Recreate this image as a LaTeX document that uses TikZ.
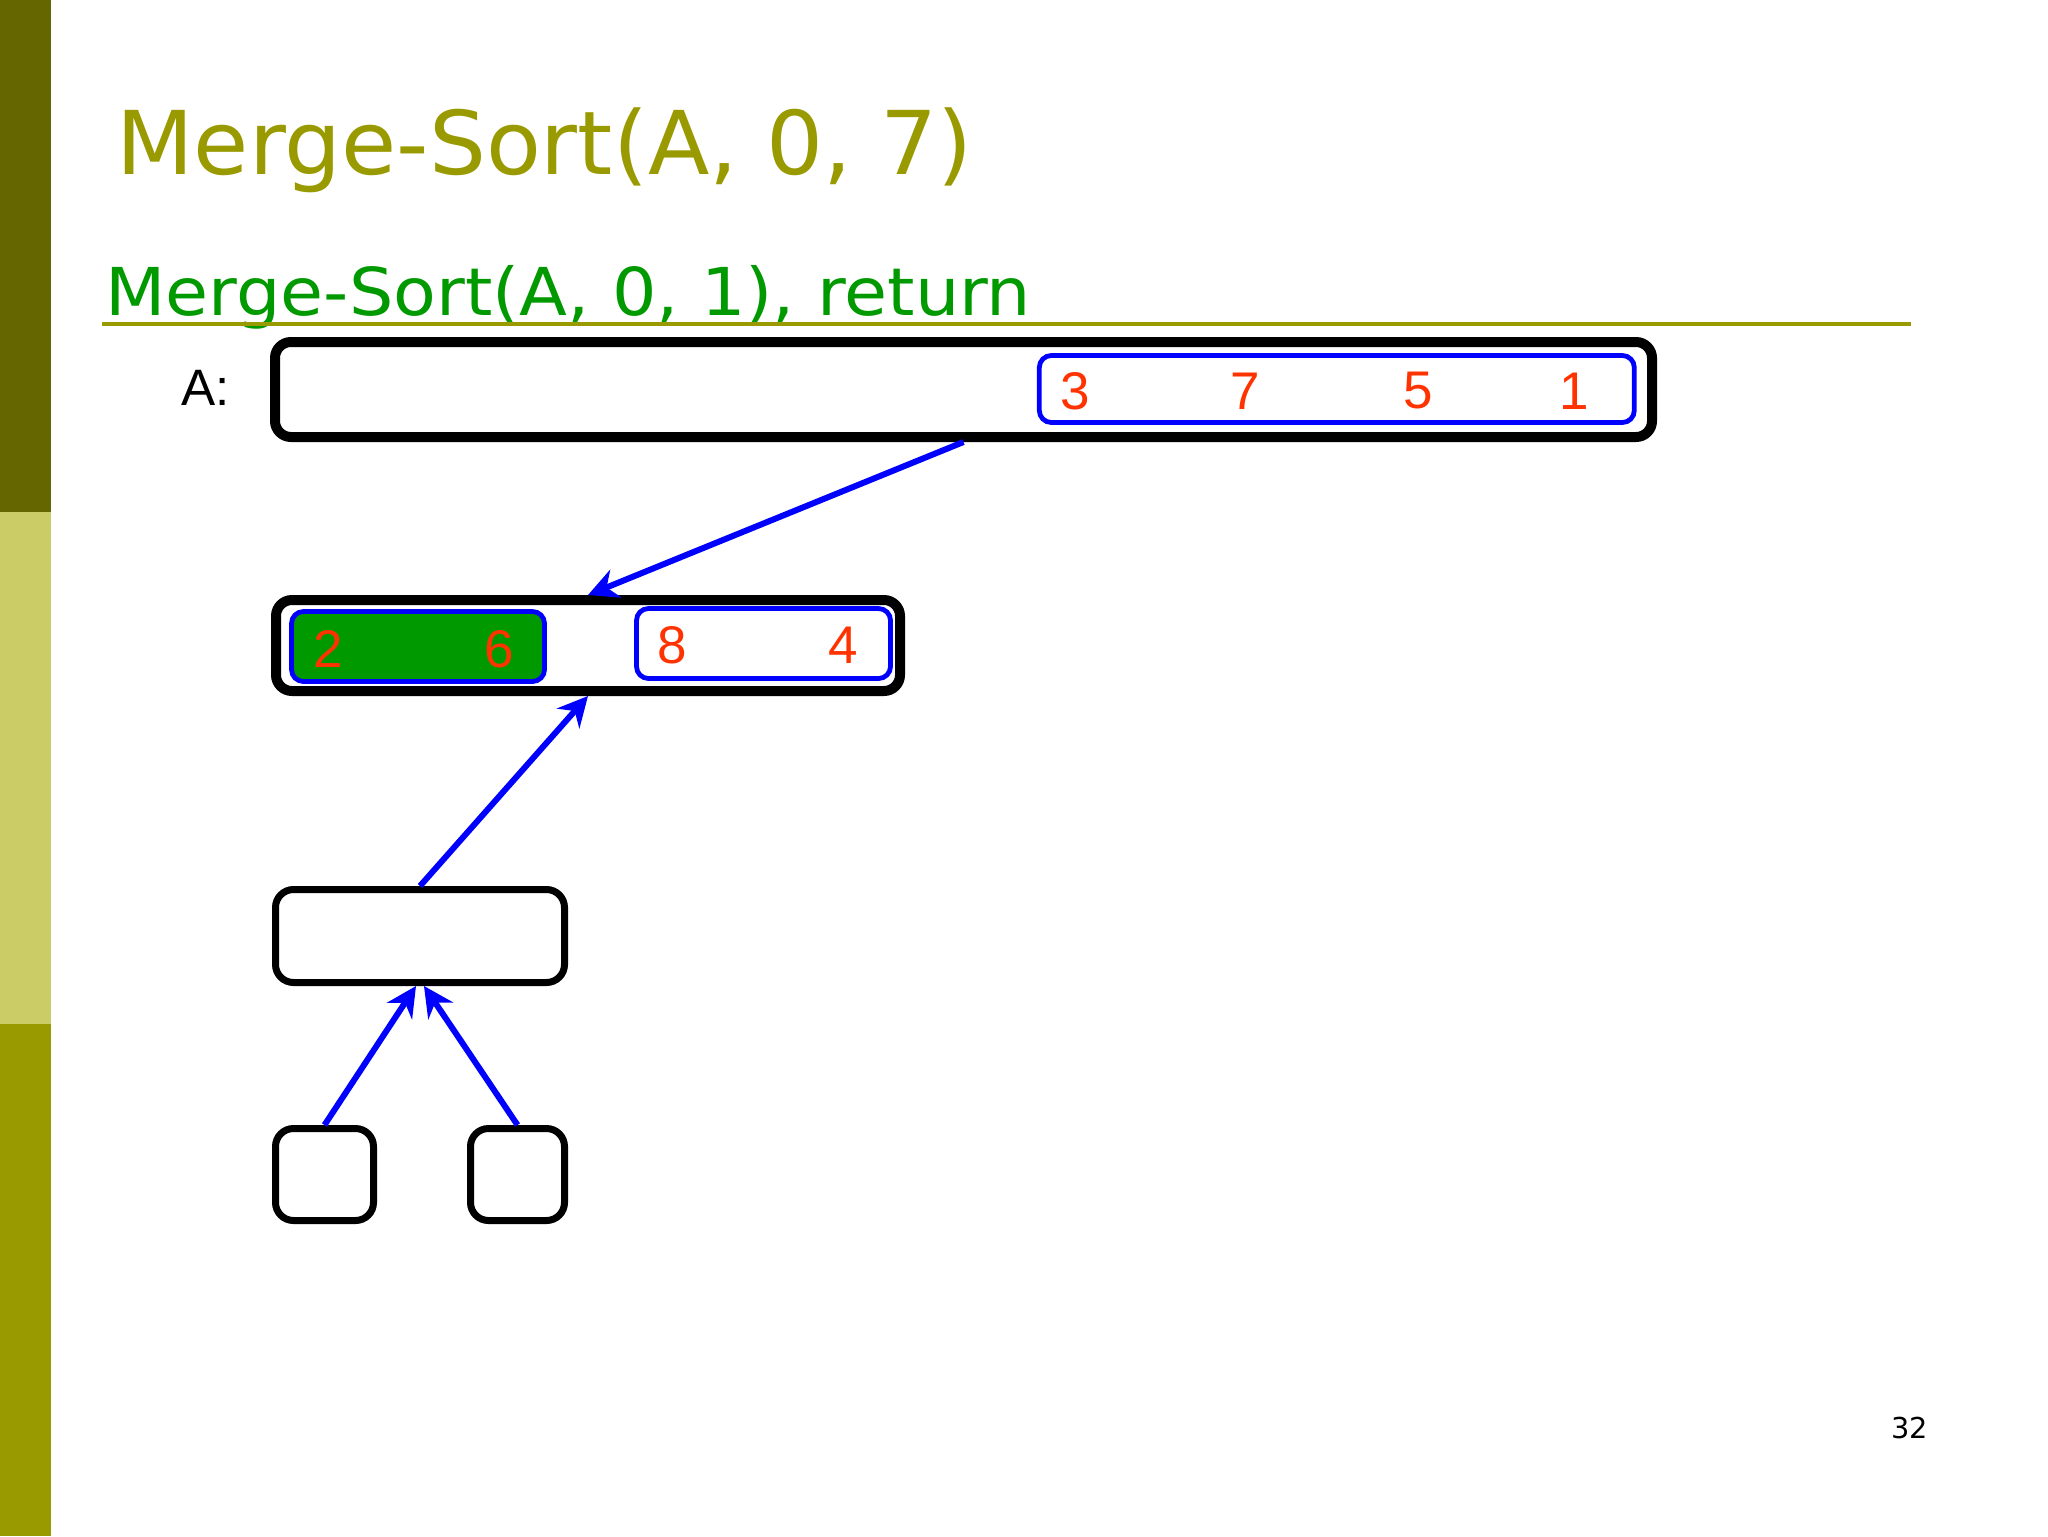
\documentclass[tikz,border=0pt]{standalone}
\usepackage{fontspec}
\setmainfont{DejaVu Sans}
\newfontfamily\arialf{Liberation Sans}
\usetikzlibrary{arrows.meta}
\definecolor{barDark}{HTML}{666600}
\definecolor{barLight}{HTML}{CCCC66}
\definecolor{barMid}{HTML}{999900}
\definecolor{titleC}{HTML}{999900}
\definecolor{subC}{HTML}{009900}
\definecolor{numC}{HTML}{FF3300}
\definecolor{arrC}{HTML}{0000FF}
\definecolor{greenFill}{HTML}{009900}
\begin{document}
\begin{tikzpicture}[x=0.5pt,y=-0.5pt,
  bigbox/.style={draw=black, line width=5pt, rounded corners=8pt, fill=white, inner sep=0pt},
  smallbox/.style={draw=black, line width=3.5pt, rounded corners=9pt, fill=white, inner sep=0pt},
  bluebox/.style={draw=arrC, line width=2.4pt, rounded corners=6pt, inner sep=0pt},
  num/.style={text=numC, font=\arialf\fontsize{26.5}{29}\selectfont, inner sep=0pt},
  arr/.style={draw=arrC, line width=3pt, -{Stealth[length=15pt,width=15pt,inset=5pt]}}]
\useasboundingbox (0,0) rectangle (2048,1536);
\fill[white] (0,0) rectangle (2048,1536);
% side bar
\fill[barDark] (0,0) rectangle (51,512);
\fill[barLight] (0,512) rectangle (51,1024);
\fill[barMid] (0,1024) rectangle (51,1536);
% titles
\node[anchor=base west, inner sep=0pt, text=titleC, font=\fontsize{44}{50}\selectfont] (title) at (116,174) {\scalebox{1.02}[1]{Merge-Sort(A, 0, 7)}};
\node[anchor=base west, inner sep=0pt, text=subC, font=\fontsize{33}{38}\selectfont] (sub) at (105,315) {\scalebox{1.06}[1]{Merge-Sort(A, 0, 1), return}};
\draw[barMid, line width=2pt] (102,324) -- (1911,324);
% label A
\node[anchor=base west, inner sep=0pt, font=\arialf\fontsize{25.6}{28}\selectfont] (alabel) at (181,405) {A:};
% top array
\node[bigbox, minimum width=688.5pt, minimum height=47.5pt] (top) at (963.5,389.5) {};
\node[bluebox, minimum width=297.5pt, minimum height=33.5pt] (topblue) at (1336.8,389) {};
\node[num] (n3) at (1075,391) {3};
\node[num] (n7) at (1245.5,391) {7};
\node[num] (n5) at (1418,391) {5};
\node[num] (n1) at (1574,391) {1};
% level 2
\node[bigbox, minimum width=312pt, minimum height=45.5pt] (lvl2) at (588,645.5) {};
\node[bluebox, fill=greenFill, minimum width=126.5pt, minimum height=35pt] (green) at (418,646.5) {};
\node[bluebox, minimum width=127pt, minimum height=35pt] (blue2) at (763.5,643.5) {};
\node[num] (n2) at (328,649) {2};
\node[num] (n6) at (499,649) {6};
\node[num] (n8) at (672,645) {8};
\node[num] (n4) at (843,645) {4};
% level 3
\node[smallbox, minimum width=144.5pt, minimum height=46.5pt] (lvl3) at (420,936) {};
% leaves
\node[smallbox, minimum width=49pt, minimum height=46pt] (leafL) at (324.5,1174.5) {};
\node[smallbox, minimum width=47pt, minimum height=46pt] (leafR) at (517.5,1174.5) {};
% arrows
\draw[arr] (top.south) -- (lvl2.north);
\draw[arr] (lvl3.north) -- (lvl2.south);
\draw[arr] (leafL.north) -- ([xshift=-2pt]lvl3.south);
\draw[arr] (leafR.north) -- ([xshift=2pt]lvl3.south);
% page number
\node[anchor=base west, inner sep=0pt, font=\fontsize{14.4}{16}\selectfont] (pnum) at (1891,1438) {32};
\end{tikzpicture}
\end{document}
